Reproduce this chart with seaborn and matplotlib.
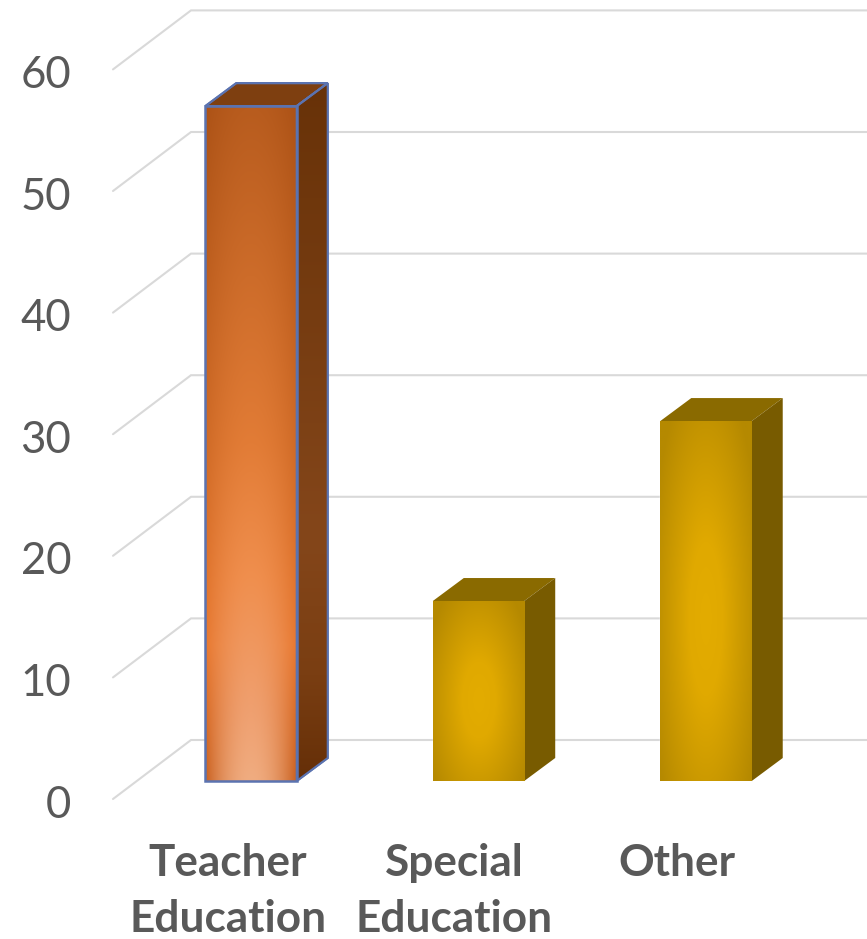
import matplotlib
matplotlib.use("Agg")
import matplotlib.pyplot as plt
import matplotlib.transforms as mtrans
from matplotlib.colors import to_rgb
from matplotlib.patches import Polygon
import numpy as np
import pandas as pd
import seaborn as sns

categories = ["Teacher\nEducation", "Special\nEducation", "Other"]
values = [55.5, 14.8, 29.6]
y_ticks = [0, 10, 20, 30, 40, 50, 60]
front_colors = ["#D06A25", "#C79A00", "#C79A00"]

W, H = 867, 939
PX_PER_UNIT = 12.16
PX_PER_CAT = 227.5
X0_PX, Y0_PX = 251, 781
LEFT_PX, BOTTOM_PX = 113, 799
DX = 31 / PX_PER_CAT
DY = 23 / PX_PER_UNIT
FRONT_OFF = -(BOTTOM_PX - Y0_PX) / PX_PER_UNIT
BACK_OFF = (Y0_PX - 740) / PX_PER_UNIT

sns.set_theme(style="white")
plt.rcParams["font.family"] = ["Lato", "DejaVu Sans"]

fig = plt.figure(figsize=(W / 100, H / 100), dpi=100, facecolor="white")
ax = fig.add_axes([LEFT_PX / W, (H - BOTTOM_PX) / H, (W - LEFT_PX) / W, BOTTOM_PX / H])
df = pd.DataFrame({"category": categories, "value": values})
sns.barplot(data=df, x="category", y="value", hue="category", palette=front_colors,
            legend=False, width=0.402, saturation=1, ax=ax, zorder=3)

xmin = (LEFT_PX - X0_PX) / PX_PER_CAT
xmax = (W - X0_PX) / PX_PER_CAT
ymin = FRONT_OFF
ymax = ymin + BOTTOM_PX / PX_PER_UNIT

# 3-D style wall and side gridlines
for v in y_ticks:
    ax.plot([xmin, xmin + 78 / PX_PER_CAT, xmax], [v + FRONT_OFF, v + BACK_OFF, v + BACK_OFF],
            color="#D9D9D9", lw=1.5, zorder=1, solid_joinstyle="miter", clip_on=False)


def lerp_stops(t, stops):
    xs = [s[0] for s in stops]
    cols = np.array([to_rgb(s[1]) for s in stops])
    return np.stack([np.interp(t, xs, cols[:, i]) for i in range(3)], axis=-1)


def orange_front():
    t, u = np.mgrid[0:1:200j, 0:1:80j]
    s = np.abs(u - 0.5) * 2
    centre = lerp_stops(t, [(0, "#B85C1E"), (0.5, "#E27C36"), (0.7, "#F08F4E"),
                            (0.9, "#EFA070"), (1, "#F0AC80")])
    edge = lerp_stops(t, [(0, "#AC5216"), (0.5, "#CF6A26"), (0.8, "#E8782F"), (1, "#C9601F")])
    m = (s ** 2)[..., None]
    return centre * (1 - m) + edge * m


def gold_front():
    t, u = np.mgrid[0:1:200j, 0:1:80j]
    r = np.clip(np.sqrt(((u - 0.5) / 0.62) ** 2 + ((t - 0.55) / 0.72) ** 2), 0, 1)
    return lerp_stops(r, [(0, "#E3AC00"), (0.3, "#E0A900"), (1, "#B58900")])


def orange_side():
    t = np.linspace(0, 1, 200)[:, None]
    return lerp_stops(np.repeat(t, 2, axis=1), [(0, "#683208"), (0.65, "#84461A"), (0.85, "#7A3E12"), (1, "#652F08")])


for i, bar in enumerate(ax.patches):
    x0, w, h = bar.get_x(), bar.get_width(), bar.get_height()
    x1 = x0 + w
    edge = "#5B73B0" if i == 0 else "none"
    top_pts = [(x0, h), (x1, h), (x1 + DX, h + DY), (x0 + DX, h + DY)]
    side_pts = [(x1, 0), (x1 + DX, DY), (x1 + DX, h + DY), (x1, h)]
    top_col = "#7E3F10" if i == 0 else "#8A6A00"
    side_col = "#6E3510" if i == 0 else "#785B00"
    top_face = Polygon(top_pts, closed=True, fc=top_col, ec=edge, lw=1.5, zorder=4)
    side_face = Polygon(side_pts, closed=True, fc=side_col, ec=edge, lw=1.5, zorder=4)
    ax.add_patch(top_face)
    ax.add_patch(side_face)
    front_img = ax.imshow(orange_front() if i == 0 else gold_front(), extent=(x0, x1, 0, h),
                          aspect="auto", zorder=5, interpolation="bilinear")
    front_img.set_clip_path(bar)
    if i == 0:
        side_img = ax.imshow(orange_side(), extent=(x1, x1 + DX, 0, h + DY),
                             aspect="auto", zorder=5, interpolation="bilinear")
        side_img.set_clip_path(side_face)
        for pts in (side_pts, top_pts):
            ax.add_patch(Polygon(pts, closed=True, fc="none", ec=edge, lw=1.5, zorder=6))
        ax.add_patch(Polygon([(x0, 0), (x1, 0), (x1, h), (x0, h)], closed=True,
                             fc="none", ec=edge, lw=1.8, zorder=6))

ax.set_xlim(xmin, xmax)
ax.set_ylim(ymin, ymax)
ax.set_xlabel("")
ax.set_ylabel("")
sns.despine(ax=ax, left=True, bottom=True, top=True, right=True)

ax.set_yticks([v + FRONT_OFF for v in y_ticks], [str(v) for v in y_ticks])
ax.tick_params(axis="y", length=0, pad=30, labelsize=31.5, labelcolor="#595959")
ax.tick_params(axis="x", length=0, pad=31.5, labelsize=31.8, labelcolor="#595959")
ax.set_xticks(range(len(categories)), categories)

for lab in ax.get_yticklabels():
    lab.set_transform(lab.get_transform() + mtrans.Affine2D().translate(0, -2))

label_shifts = [-23, -24, -29]
for lab, sh in zip(ax.get_xticklabels(), label_shifts):
    lab.set_fontweight("bold")
    lab.set_linespacing(1.5)
    lab.set_verticalalignment("top")
    lab.set_transform(lab.get_transform() + mtrans.Affine2D().translate(sh, 0))

fig.savefig("out.png", dpi=100, facecolor="white")
